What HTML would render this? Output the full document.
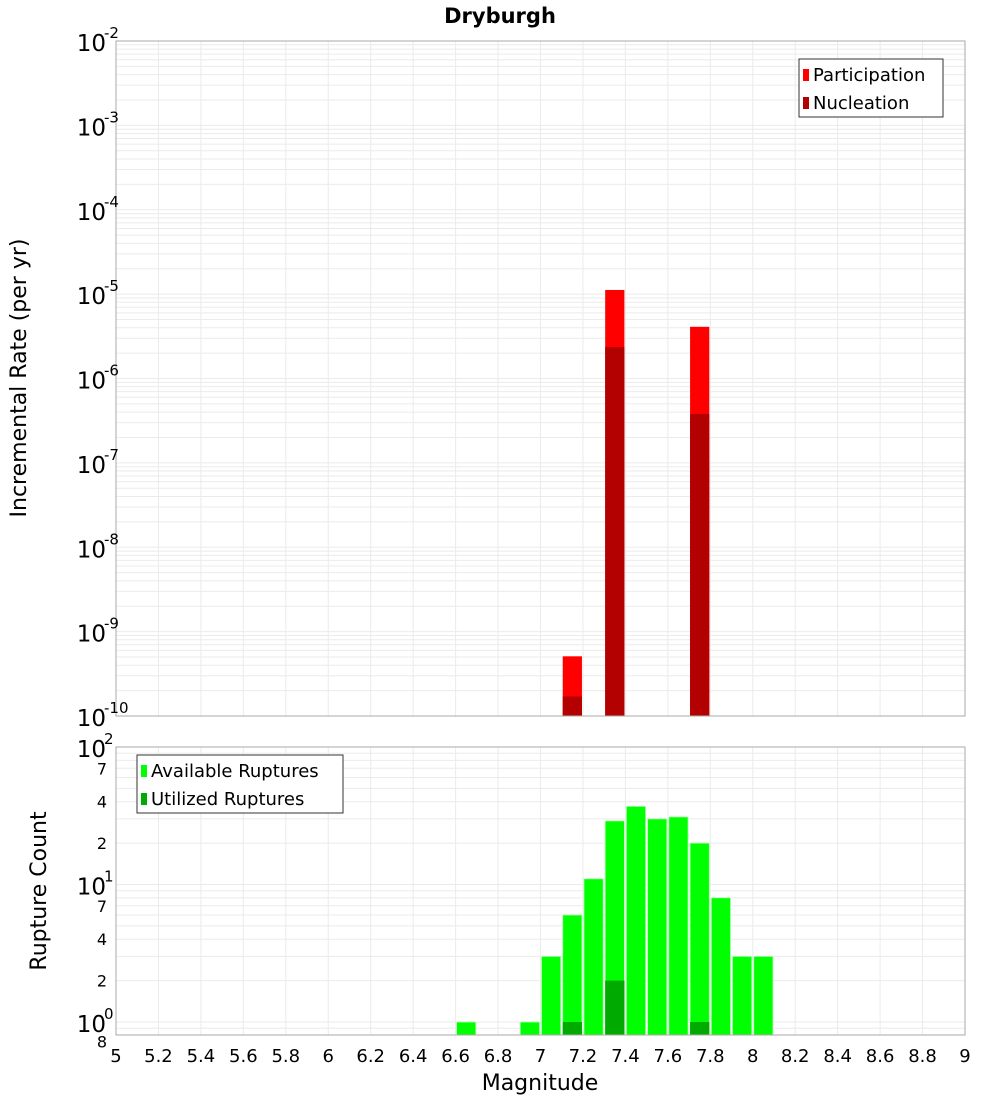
<!DOCTYPE html>
<html><head><meta charset="utf-8"><style>
body{margin:0;background:#fff;}
svg{font-family:"DejaVu Sans","Liberation Sans",sans-serif;}
</style></head><body>
<svg id="c" width="1000" height="1100" xmlns="http://www.w3.org/2000/svg">
<text x="500" y="23" text-anchor="middle" font-size="21" font-weight="bold">Dryburgh</text>
<g id="topPanel"></g><g id="botPanel"></g>
<text transform="translate(26,378) rotate(-90)" text-anchor="middle" font-size="22">Incremental Rate (per yr)</text>
<text transform="translate(46,891) rotate(-90)" text-anchor="middle" font-size="22">Rupture Count</text>
<text x="540" y="1090" text-anchor="middle" font-size="22">Magnitude</text>
</svg>
<script>
const rateMags=[7.15,7.35,7.75];
const participation=[5.1e-10,1.12e-5,4.1e-6];
const nucleation=[1.7e-10,2.36e-6,3.8e-7];
const countMags=[6.65,6.95,7.05,7.15,7.25,7.35,7.45,7.55,7.65,7.75,7.85,7.95,8.05];
const available=[1,1,3,6,11,29,37,30,31,20,8,3,3];
const utilizedMags=[7.15,7.35,7.75];
const utilized=[1,2,1];
const xTicks=[5,5.2,5.4,5.6,5.8,6,6.2,6.4,6.6,6.8,7,7.2,7.4,7.6,7.8,8,8.2,8.4,8.6,8.8,9];
const rateExps=[-2,-3,-4,-5,-6,-7,-8,-9,-10];
const countExps=[2,1,0];
const countMinor=[7,4,2];

const NS="http://www.w3.org/2000/svg";
const X0=116,X1=965;
const xS=m=>X0+(m-5)/4*(X1-X0);
const T0=41,T1=716;
const yT=v=>T0+(-2-Math.log10(v))*84.375;
const B0=747,B1=1035;
const yB=v=>B0+(2-Math.log10(v))*137.5;
function el(p,t,a){const e=document.createElementNS(NS,t);for(const k in a)e.setAttribute(k,a[k]);p.appendChild(e);return e;}
const gTop=document.getElementById('topPanel'),gBot=document.getElementById('botPanel');

function panel(g,y0,y1,name){
  const r=el(g,'rect',{x:X0,y:y0,width:X1-X0,height:y1-y0,fill:'#fff'});
  
  
}
panel(gTop,T0,T1,'rate');panel(gBot,B0,B1,'count');

for(const m of xTicks){
  const l=el(gTop,'line',{x1:xS(m),x2:xS(m),y1:T0,y2:T1,stroke:'#ebebeb'});
  
  
  const l2=el(gBot,'line',{x1:xS(m),x2:xS(m),y1:B0,y2:B1,stroke:'#ebebeb'});
  
  
}
for(let e=-10;e<-2;e++){for(let k=1;k<10;k++){const y=yT(k*Math.pow(10,e));
  const l=el(gTop,'line',{x1:X0,x2:X1,y1:y,y2:y,stroke:'#ebebeb'});
  
  }}
for(let e=-1;e<2;e++){for(let k=1;k<10;k++){const v=k*Math.pow(10,e);const y=yB(v);if(y>B1||y<B0)continue;
  const l=el(gBot,'line',{x1:X0,x2:X1,y1:y,y2:y,stroke:'#ebebeb'});
  
  }}

const bw=(X1-X0)/40-2;
rateMags.forEach((m,i)=>{
  const y=yT(participation[i]);
  const b=el(gTop,'rect',{x:xS(m)-bw/2,y:y,width:bw,height:T1-y,fill:'#ff0000'});
  
  
  const y2=yT(nucleation[i]);
  const b2=el(gTop,'rect',{x:xS(m)-bw/2,y:y2,width:bw,height:T1-y2,fill:'#b30000'});
  
  
});
countMags.forEach((m,i)=>{
  const y=yB(available[i]);
  const b=el(gBot,'rect',{x:xS(m)-bw/2,y:y,width:bw,height:B1-y,fill:'#00ff00',stroke:'#b0ffb0','stroke-width':0.8});
  
  
});
utilizedMags.forEach((m,i)=>{
  const y=yB(utilized[i]);
  const b=el(gBot,'rect',{x:xS(m)-bw/2,y:y,width:bw,height:B1-y,fill:'#00aa00'});
  
  
});
for(const [g,y0,y1] of [[gTop,T0,T1],[gBot,B0,B1]]){
  const r=el(g,'rect',{x:X0,y:y0,width:X1-X0,height:y1-y0,fill:'none',stroke:'#aaa'});
  
  
}
rateExps.forEach(e=>{
  const y=yT(Math.pow(10,e));
  const t=el(gTop,'text',{x:106,y:y+10,'text-anchor':'end','font-size':23});
  t.textContent='10';
  
  
  const s=el(gTop,'text',{x:104,y:y-3,'font-size':15});
  s.textContent=String(e);
  
  
});
countExps.forEach(e=>{
  const y=yB(Math.pow(10,e));
  const t=el(gBot,'text',{x:106,y:y+10,'text-anchor':'end','font-size':23});
  t.textContent='10';
  
  
  const s=el(gBot,'text',{x:104,y:y-3,'font-size':15});
  s.textContent=String(e);
  
  
  if(e>0){countMinor.forEach(k=>{const v=k*Math.pow(10,e-1);
    const m=el(gBot,'text',{x:107,y:yB(v)+6,'text-anchor':'end','font-size':16});
    m.textContent=String(k);
    
    });}
});
{const m=el(gBot,'text',{x:107,y:yB(0.8)+12,'text-anchor':'end','font-size':16});m.textContent='8';

}
xTicks.forEach(v=>{
  const t=el(gBot,'text',{x:xS(v),y:1062,'text-anchor':'middle','font-size':18});
  t.textContent=String(v);
  
  
});
function legend(g,x0,y0,w,items,name){
  const lg=el(g,'g',{});
  
  
  el(lg,'rect',{x:x0,y:y0,width:w,height:58,fill:'#fff',stroke:'#333'});
  items.forEach((it,i)=>{
    const sw=el(lg,'rect',{x:x0+4,y:y0+10+i*28,width:6,height:12,fill:it[1]});
    
    
    const t=el(lg,'text',{x:x0+14,y:y0+22+i*28,'font-size':18});
    t.textContent=it[0];
    
    
  });
}
legend(gTop,799,59,144,[['Participation','#ff0000'],['Nucleation','#b30000']],'rate-legend');
legend(gBot,137,755,206,[['Available Ruptures','#00ff00'],['Utilized Ruptures','#00aa00']],'count-legend');
</script>
</body></html>
